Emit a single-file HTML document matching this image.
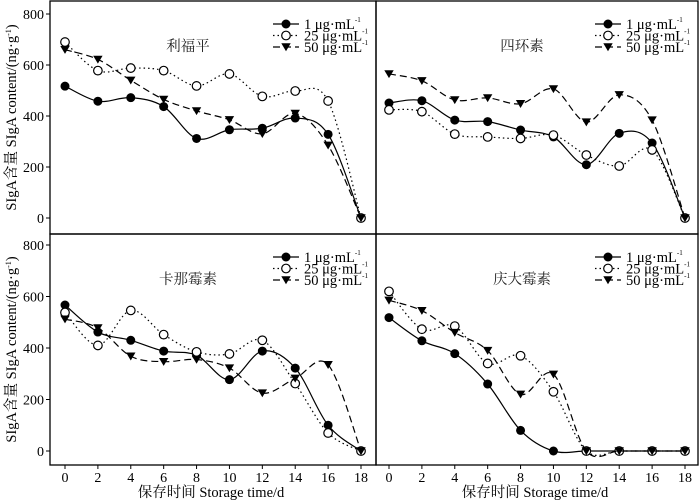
<!DOCTYPE html>
<html><head><meta charset="utf-8"><style>
html,body{margin:0;padding:0;background:#fff;}
svg{display:block;font-family:"Liberation Serif","Noto Serif CJK SC",serif;}
</style></head><body>
<svg id="chart" width="700" height="503" viewBox="0 0 700 503" xmlns="http://www.w3.org/2000/svg"></svg>
<script>
const days = [0,2,4,6,8,10,12,14,16,18];
const yTicks = [0,200,400,600,800];
const seriesLabels = ["1 μg·mL","25 μg·mL","50 μg·mL"];
const panelTitles = ["利福平","四环素","卡那霉素","庆大霉素"];
const rif1 = [517,458,472,437,312,346,352,392,328,0];
const rif25 = [690,578,588,578,518,565,477,498,459,0];
const rif50 = [660,622,540,465,420,385,330,410,285,0];
const tet1 = [451,460,384,378,345,318,209,332,294,0];
const tet25 = [424,417,329,318,312,325,247,204,267,0];
const tet50 = [565,538,463,471,448,506,376,483,384,0];
const kan1 = [567,462,430,388,372,277,388,322,100,0];
const kan25 = [538,410,546,452,385,377,430,262,70,0];
const kan50 = [512,478,368,347,355,322,225,282,335,0];
const gen1 = [518,428,378,260,80,0,0,0,0,0];
const gen25 = [620,473,485,340,370,230,0,0,0,0];
const gen50 = [585,545,460,390,220,298,0,0,0,0];
const panelData = [[rif1,rif25,rif50],[tet1,tet25,tet50],[kan1,kan25,kan50],[gen1,gen25,gen50]];

const NS="http://www.w3.org/2000/svg";
const svg=document.getElementById('chart');
function mk(tag,attrs,parent){const e=document.createElementNS(NS,tag);for(const k in attrs)e.setAttribute(k,attrs[k]);(parent||svg).appendChild(e);return e;}

const panels=[
 {x0:65,x1:361,y0:218,y800:14,left:50,right:376,top:1,bottom:234,tx:188},
 {x0:389,x1:685,y0:218,y800:14,left:376,right:698,top:1,bottom:234,tx:522},
 {x0:65,x1:361,y0:451,y800:245,left:50,right:376,top:234,bottom:465,tx:188},
 {x0:389,x1:685,y0:451,y800:245,left:376,right:698,top:234,bottom:465,tx:522}
];
const dashes=["none","1.5,3","7,4"];

function spline(pts){
 let d=`M${pts[0][0]},${pts[0][1]}`;
 for(let i=0;i<pts.length-1;i++){
  const p0=pts[Math.max(i-1,0)],p1=pts[i],p2=pts[i+1],p3=pts[Math.min(i+2,pts.length-1)];
  const c1=[p1[0]+(p2[0]-p0[0])/6,p1[1]+(p2[1]-p0[1])/6];
  const c2=[p2[0]-(p3[0]-p1[0])/6,p2[1]-(p3[1]-p1[1])/6];
  d+=` C${c1[0]},${c1[1]} ${c2[0]},${c2[1]} ${p2[0]},${p2[1]}`;
 }
 return d;
}
function marker(g,s,x,y){
 let m;
 if(s===0) m=mk('circle',{cx:x,cy:y,r:4.5,fill:'#000'},g);
 else if(s===1) m=mk('circle',{cx:x,cy:y,r:4.3,fill:'#fff',stroke:'#000','stroke-width':1.2},g);
 else m=mk('path',{d:`M${x-4.7},${y-3.7} L${x+4.7},${y-3.7} L${x},${y+4.2} Z`,fill:'#000'},g);
 return m;
}

panels.forEach((P,pi)=>{
 const g=mk('g',{});
 
 
 const sx=v=>P.x0+(P.x1-P.x0)*v/18;
 const sy=v=>P.y0-(P.y0-P.y800)*v/800;
 const fr=mk('rect',{x:P.left,y:P.top,width:P.right-P.left,height:P.bottom-P.top,fill:'none',stroke:'#000','stroke-width':1.3},g);
 
 
 if(pi%2===0){
  yTicks.forEach(t=>{
   mk('line',{x1:P.left-4,x2:P.left,y1:sy(t),y2:sy(t),stroke:'#000'},g);
   const tl=mk('text',{x:P.left-6,y:sy(t)+5,'text-anchor':'end','font-size':14},g);
   tl.textContent=t;
   
   
  });
  const cy=(P.top+P.bottom)/2;
  const yt=mk('text',{x:0,y:0,'text-anchor':'middle','font-size':14.5,transform:`translate(16,${cy}) rotate(-90)`},g);
  yt.textContent='SIgA含量 SIgA content/(ng·g';
  const ys=mk('tspan',{'font-size':8,dy:-5},yt);ys.textContent='-1';
  const yc=mk('tspan',{dy:5},yt);yc.textContent=')';
  
  
 }
 if(pi>=2){
  days.forEach(t=>{
   mk('line',{x1:sx(t),x2:sx(t),y1:P.bottom,y2:P.bottom+4,stroke:'#000'},g);
   const tl=mk('text',{x:sx(t),y:P.bottom+17,'text-anchor':'middle','font-size':14},g);
   tl.textContent=t;
   
   
  });
  const xt=mk('text',{x:(P.left+P.right)/2-2,y:497,'text-anchor':'middle','font-size':14.5},g);
  xt.textContent='保存时间 Storage time/d';
  
  
 }
 const tt=mk('text',{x:P.tx,y:P.top+50,'text-anchor':'middle','font-size':14.5,fill:'#222'},g);
 tt.textContent=panelTitles[pi];
 
 
 panelData[pi].forEach((vals,s)=>{
  const pts=vals.map((v,i)=>[sx(days[i]),sy(v)]);
  const ln=mk('path',{d:spline(pts),fill:'none',stroke:'#000','stroke-width':1.2,'stroke-dasharray':dashes[s]},g);
  
  
  pts.forEach(p=>{
   const m=marker(g,s,p[0],p[1]);
   
   
  });
 });
 seriesLabels.forEach((lab,s)=>{
  const ly=P.top+23+s*11.5;
  const lx=P.right-103;
  const lg=mk('g',{},g);
  
  
  mk('line',{x1:lx,x2:lx+26,y1:ly,y2:ly,stroke:'#000','stroke-width':1.2,'stroke-dasharray':dashes[s]},lg);
  marker(lg,s,lx+13,ly);
  const t=mk('text',{x:lx+31,y:ly+5,'font-size':14.5},lg);
  t.textContent=lab;
  const sp=mk('tspan',{'font-size':7,dy:-7},t);sp.textContent='-1';
 });
});
</script>
</body></html>
